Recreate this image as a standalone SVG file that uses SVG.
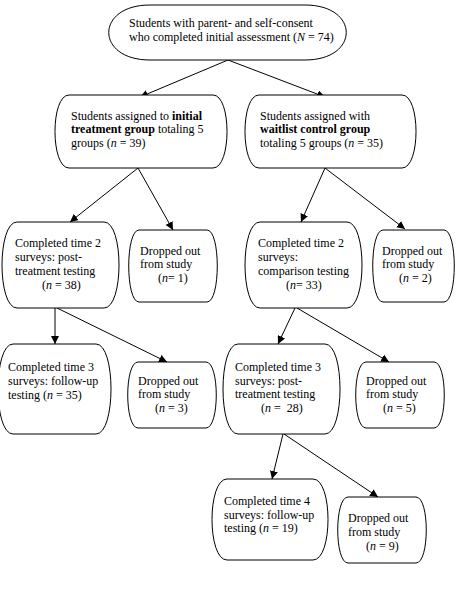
<svg xmlns="http://www.w3.org/2000/svg" width="461" height="593" viewBox="0 0 461 593">
<style>
.n{fill:#fff;stroke:#000;stroke-width:1}
.t{font-family:"Liberation Serif","Times New Roman",serif;font-size:12px;fill:#000}
.c line{stroke:#000;stroke-width:1;marker-end:url(#ah)}
.i{font-style:italic}
.b{font-weight:bold}
</style>
<defs>
<marker id="ah" viewBox="0 0 10 10" refX="10" refY="5" markerWidth="8" markerHeight="8" markerUnits="userSpaceOnUse" orient="auto">
<path d="M0,0 L10,5 L0,10 z" fill="#000"/>
</marker>
</defs>
<rect width="461" height="593" fill="#fff"/>
<g class="c" id="connectors">
<line x1="228" y1="60" x2="140" y2="97"/>
<line x1="228" y1="60" x2="325" y2="97"/>
<line x1="138" y1="168" x2="70" y2="222"/>
<line x1="138" y1="168" x2="173" y2="230"/>
<line x1="325" y1="168" x2="301" y2="222"/>
<line x1="325" y1="168" x2="405" y2="229"/>
<line x1="55" y1="308" x2="55" y2="344"/>
<line x1="57" y1="308" x2="167" y2="362"/>
<line x1="295" y1="308" x2="278" y2="344"/>
<line x1="297" y1="308" x2="389" y2="362"/>
<line x1="283" y1="434" x2="272" y2="479"/>
<line x1="284" y1="434" x2="378" y2="497"/>
</g>
<g id="n0">
<path class="n" d="M150,5 H305 C360,5 360,60 305,60 H150 C95,60 95,5 150,5 Z"/>
<text class="t" x="129" y="27">Students with parent- and self-consent</text>
<text class="t" x="129" y="41">who completed initial assessment (<tspan class="i">N</tspan> = 74)</text>
</g>
<g id="n1">
<path class="n" d="M69,95 H213 C231.7,95 231.7,168 213,168 H69 C50.3,168 50.3,95 69,95 Z"/>
<text class="t" x="71" y="120">Students assigned to <tspan class="b">initial</tspan></text>
<text class="t" x="71" y="133"><tspan class="b">treatment group</tspan> totaling 5</text>
<text class="t" x="71" y="147">groups (<tspan class="i">n</tspan> = 39)</text>
</g>
<g id="n2">
<path class="n" d="M259,95 H402 C420.7,95 420.7,168 402,168 H259 C240.3,168 240.3,95 259,95 Z"/>
<text class="t" x="260" y="120">Students assigned with</text>
<text class="t" x="260" y="133"><tspan class="b">waitlist control group</tspan></text>
<text class="t" x="260" y="147">totaling 5 groups (<tspan class="i">n</tspan> = 35)</text>
</g>
<g id="n3">
<path class="n" d="M17,222 H104 C124,222 124,308 104,308 H17 C-3,308 -3,222 17,222 Z"/>
<text class="t" x="15" y="247">Completed time 2</text>
<text class="t" x="15" y="261">surveys: post-</text>
<text class="t" x="15" y="275">treatment testing</text>
<text class="t" x="42" y="289">(<tspan class="i">n</tspan> = 38)</text>
</g>
<g id="n4">
<path class="n" d="M139,230 H207 C220.7,230 220.7,302 207,302 H139 C125.3,302 125.3,230 139,230 Z"/>
<text class="t" x="140" y="255">Dropped out</text>
<text class="t" x="140" y="268">from study</text>
<text class="t" x="158" y="282">(<tspan class="i">n</tspan>= 1)</text>
</g>
<g id="n5">
<path class="n" d="M260,222 H347 C367,222 367,308 347,308 H260 C240,308 240,222 260,222 Z"/>
<text class="t" x="258" y="247">Completed time 2</text>
<text class="t" x="258" y="261">surveys:</text>
<text class="t" x="258" y="275">comparison testing</text>
<text class="t" x="286" y="289">(<tspan class="i">n</tspan>= 33)</text>
</g>
<g id="n6">
<path class="n" d="M383,230 H444 C457.7,230 457.7,302 444,302 H383 C369.3,302 369.3,230 383,230 Z"/>
<text class="t" x="382" y="255">Dropped out</text>
<text class="t" x="382" y="268">from study</text>
<text class="t" x="399" y="282">(<tspan class="i">n</tspan> = 2)</text>
</g>
<g id="n7">
<path class="n" d="M13,344 H96 C116,344 116,434 96,434 H13 C-7,434 -7,344 13,344 Z"/>
<text class="t" x="8" y="371">Completed time 3</text>
<text class="t" x="8" y="385">surveys: follow-up</text>
<text class="t" x="8" y="399">testing (<tspan class="i">n</tspan> = 35)</text>
</g>
<g id="n8">
<path class="n" d="M138,362 H206 C219.7,362 219.7,428 206,428 H138 C124.3,428 124.3,362 138,362 Z"/>
<text class="t" x="138" y="385">Dropped out</text>
<text class="t" x="138" y="398">from study</text>
<text class="t" x="155" y="412">(<tspan class="i">n</tspan> = 3)</text>
</g>
<g id="n9">
<path class="n" d="M238,344 H325 C345,344 345,434 325,434 H238 C218,434 218,344 238,344 Z"/>
<text class="t" x="235" y="371">Completed time 3</text>
<text class="t" x="235" y="385">surveys: post-</text>
<text class="t" x="235" y="398">treatment testing</text>
<text class="t" x="261" y="412" xml:space="preserve">(<tspan class="i">n</tspan> =  28)</text>
</g>
<g id="n10">
<path class="n" d="M366,362 H434 C447.7,362 447.7,428 434,428 H366 C352.3,428 352.3,362 366,362 Z"/>
<text class="t" x="366" y="385">Dropped out</text>
<text class="t" x="366" y="398">from study</text>
<text class="t" x="383" y="412">(<tspan class="i">n</tspan> = 5)</text>
</g>
<g id="n11">
<path class="n" d="M227,479 H313 C333,479 333,560 313,560 H227 C207,560 207,479 227,479 Z"/>
<text class="t" x="224" y="505">Completed time 4</text>
<text class="t" x="224" y="519">surveys: follow-up</text>
<text class="t" x="224" y="532">testing (<tspan class="i">n</tspan> = 19)</text>
</g>
<g id="n12">
<path class="n" d="M348,497 H416 C429.7,497 429.7,563 416,563 H348 C334.3,563 334.3,497 348,497 Z"/>
<text class="t" x="348" y="522">Dropped out</text>
<text class="t" x="348" y="536">from study</text>
<text class="t" x="366" y="550">(<tspan class="i">n</tspan> = 9)</text>
</g>
</svg>
